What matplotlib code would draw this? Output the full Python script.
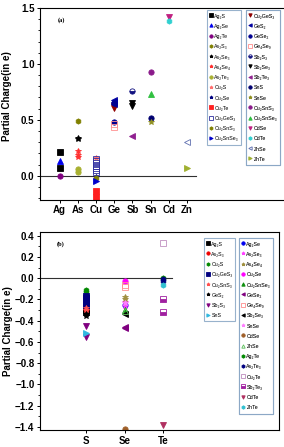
import matplotlib
matplotlib.use("Agg")
import matplotlib.pyplot as plt
from matplotlib.lines import Line2D
from matplotlib.ticker import MultipleLocator

plt.rcParams['font.family'] = ['Liberation Sans', 'DejaVu Sans']

# panel (a): cation sites
cations = ["Ag", "As", "Cu", "Ge", "Sb", "Sn", "Cd", "Zn"]

a_labels = ["Ag₂S", "Ag₂Se", "Ag₂Te", "As₂S₃", "As₂Se₃", "As₄Se₄", "As₂Te₃", "Cu₂S",
            "Cu₂Se", "Cu₂Te", "Cu₂GeS₃", "Cu₂SnS₃", "Cu₂SnSe₃",
            "Cu₂GeS₃", "GeS₂", "GeSe₂", "Ge₄Se₉", "Sb₂S₃", "Sb₂Se₃", "Sb₂Te₃", "SnS",
            "SnSe", "Cu₂SnS₃", "Cu₂SnSe₃", "CdSe", "CdTe", "ZnSe", "ZnTe"]
a_site = ["Ag", "Ag", "Ag", "As", "As", "As", "As", "Cu", "Cu", "Cu", "Cu", "Cu", "Cu",
          "Ge", "Ge", "Ge", "Ge", "Sb", "Sb", "Sb", "Sn", "Sn", "Sn", "Sn", "Cd", "Cd", "Zn", "Zn"]
a_values = [[0.21, 0.07], [0.13], [0.0], [0.49], [0.34, 0.33], [0.22, 0.19, 0.17],
            [0.06, 0.03], [0.16], [-0.01], [-0.14, -0.19],
            [0.15, 0.13, 0.11, 0.09, 0.07, 0.05, 0.03], [-0.02], [-0.05],
            [0.62, 0.61], [0.68, 0.66, 0.64], [0.65, 0.48], [0.46, 0.44], [0.76],
            [0.65, 0.62], [0.36], [0.52], [0.48], [0.93], [0.73], [1.42], [1.38],
            [0.30], [0.07]]

# panel (b): anion sites
anions = ["S", "Se", "Te"]

b_labels = ["Ag₂S", "As₂S₃", "Cu₂S", "Cu₂GeS₃", "Cu₂SnS₃", "GeS₂", "Sb₂S₃", "SnS",
            "Ag₂Se", "As₂Se₃", "As₄Se₄", "Cu₂Se", "Cu₂SnSe₃", "GeSe₂", "Ge₄Se₉", "Sb₂Se₃",
            "SnSe", "CdSe", "ZnSe", "Ag₂Te", "As₂Te₃", "Cu₂Te", "Sb₂Te₃", "CdTe", "ZnTe"]
b_site = ["S"] * 8 + ["Se"] * 11 + ["Te"] * 6
b_values = [[-0.32, -0.30], [-0.29], [-0.11, -0.13], [-0.17, -0.19, -0.21, -0.23, -0.25],
            [-0.28, -0.30], [-0.34, -0.36], [-0.45, -0.55], [-0.52],
            [-0.25], [-0.22, -0.26], [-0.18, -0.20], [-0.03], [-0.30], [-0.46, -0.47],
            [-0.06, -0.08], [-0.34], [-0.23], [-1.42], [-0.31],
            [0.0], [-0.01, -0.03], [0.33], [-0.20, -0.32], [-1.38], [-0.06]]

# styles: (marker, color, fillstyle)
a_style = [("s", "black", "full"), ("^", "#0000ee", "full"), ("o", "#800080", "full"),
           ("h", "#808000", "full"), ("*", "black", "full"), ("*", "#ff3030", "full"),
           ("o", "#a8b030", "full"), ("*", "#ff7070", "full"), ("*", "#000080", "full"),
           ("s", "#ff2020", "full"), ("s", "#3030a0", "none"), ("h", "#808000", "full"),
           (">", "#0000cc", "full"),
           ("v", "#900000", "full"), ("<", "#0000a0", "full"), ("o", "#000090", "full"),
           ("s", "#ff9090", "none"), ("o", "#101080", "bottom"), ("v", "black", "full"),
           ("<", "#902090", "full"), ("o", "#000070", "full"), ("*", "#909020", "full"),
           ("o", "#8a1a8a", "full"), ("^", "#30c040", "full"), ("v", "#c02080", "full"),
           ("h", "#30d0d0", "full"), ("<", "#6070b0", "none"), (">", "#a0b030", "full")]
b_style = [("s", "black", "full"), ("o", "#ee0000", "full"), ("h", "#008800", "full"),
           ("s", "#000080", "full"), ("*", "#ff5050", "full"), ("*", "black", "full"),
           ("v", "#800080", "full"), (">", "#30b8e0", "full"),
           ("o", "#0000ee", "full"), ("*", "#ff40ff", "full"), ("*", "#a09040", "full"),
           ("o", "#ff00ff", "full"), ("^", "#109010", "full"), ("<", "#800080", "full"),
           ("s", "#ff9090", "none"), ("<", "black", "full"), ("*", "#ff80ff", "full"),
           ("o", "#a0602a", "full"), ("^", "#60c060", "none"), ("h", "#008800", "full"),
           ("h", "#000080", "full"), ("s", "#c090c0", "none"), ("s", "#a020a0", "bottom"),
           ("v", "#b03060", "full"), ("h", "#30c0d0", "full")]

fig = plt.figure(figsize=(2.84, 4.47), dpi=100)
ax1 = fig.add_axes([0.141, 0.553, 0.87, 0.429])
ax2 = fig.add_axes([0.141, 0.038, 0.841, 0.443])

ms = 3.8


def draw(ax, labels, sites, values, styles, cats):
    handles = []
    for lab, site, vals, (m, c, fs) in zip(labels, sites, values, styles):
        xs = [cats.index(site) + 1] * len(vals)
        kw = dict(marker=m, color=c, linestyle="none", fillstyle=fs,
                  markeredgewidth=0.6, markerfacecoloralt="white")
        ax.plot(xs, vals, markersize=ms, **kw)
        handles.append(Line2D([], [], label=lab, markersize=2.4, **kw))
    return handles


h1 = draw(ax1, a_labels, a_site, a_values, a_style, cations)
h2 = draw(ax2, b_labels, b_site, b_values, b_style, anions)

ax1.plot([-0.1, 8.5], [0, 0], color="#303030", lw=0.8, zorder=0)
ax2.plot([-0.3, 3.23], [0, 0], color="#303030", lw=0.8, zorder=0)

ax1.set_xlim(-0.08, 13.5)
ax1.set_ylim(-0.215, 1.5)
ax2.set_xlim(-0.2, 6.0)
ax2.set_ylim(-1.43, 0.435)

ax1.set_xticks(range(1, len(cations) + 1))
ax1.set_xticklabels(cations)
ax2.set_xticks(range(1, len(anions) + 1))
ax2.set_xticklabels(anions)
ax1.yaxis.set_major_locator(MultipleLocator(0.5))
ax1.yaxis.set_minor_locator(MultipleLocator(0.1))
ax2.yaxis.set_major_locator(MultipleLocator(0.2))
ax2.yaxis.set_minor_locator(MultipleLocator(0.1))

for ax in (ax1, ax2):
    ax.tick_params(axis="both", labelsize=7, width=0.7, length=2.5, pad=1.5)
    ax.tick_params(axis="y", which="minor", width=0.6, length=1.5)
    for t in ax.get_xticklabels() + ax.get_yticklabels():
        t.set_fontweight("bold")
    for s in ax.spines.values():
        s.set_linewidth(0.8)
    ax.set_ylabel("Partial Charge(in e)", fontsize=7, fontweight="bold", labelpad=1)

ax1.yaxis.set_label_coords(-0.115, 0.54)
ax2.yaxis.set_label_coords(-0.115, 0.5)
ax1.spines["right"].set_visible(False)

ax1.text(0.07, 0.93, "(a)", transform=ax1.transAxes, fontsize=4.5, fontweight="bold",
         family="Liberation Serif")
ax2.text(0.07, 0.93, "(b)", transform=ax2.transAxes, fontsize=4.5, fontweight="bold",
         family="Liberation Serif")

leg_kw = dict(prop={"size": 3.8, "family": ["Liberation Sans", "DejaVu Sans"]},
              labelspacing=0.72, handleheight=1.5, handlelength=0.6, handletextpad=0.3,
              borderpad=0.5, borderaxespad=0, frameon=True, fancybox=False,
              loc="upper left", bbox_transform=fig.transFigure)


def add_legend(ax, hs, x0, y0):
    lg = ax.legend(handles=hs, bbox_to_anchor=(x0, y0), **leg_kw)
    lg.get_frame().set_edgecolor("#7f9fc0")
    lg.get_frame().set_linewidth(0.8)
    ax.add_artist(lg)
    return lg


add_legend(ax1, h1[:13], 207 / 284, 1 - 10 / 447)
add_legend(ax1, h1[13:], 246 / 284, 1 - 10 / 447)
add_legend(ax2, h2[:8], 204 / 284, 1 - 238 / 447)
add_legend(ax2, h2[8:], 239 / 284, 1 - 238 / 447)

fig.savefig("out.png", dpi=100)
